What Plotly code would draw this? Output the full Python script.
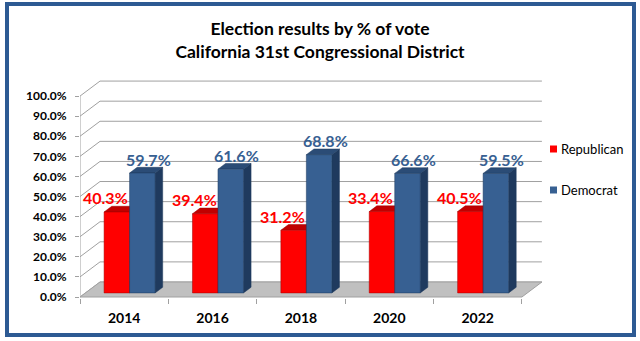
import plotly.graph_objects as go

# ---------------- data ----------------
years = ["2014", "2016", "2018", "2020", "2022"]
rep_height = [40.3, 39.4, 31.2, 40.5, 40.5]   # bar heights as drawn
dem_height = [59.7, 61.6, 68.8, 59.5, 59.5]
rep_labels = ["40.3%", "39.4%", "31.2%", "33.4%", "40.5%"]
dem_labels = ["59.7%", "61.6%", "68.8%", "66.6%", "59.5%"]
y_ticks = list(range(0, 101, 10))
series_names = ["Republican", "Democrat"]

# ---------------- style / geometry ----------------
W, H = 640, 341
PL, PR, PT, PB = 80, 544, 80, 298
XMAX = 5.25
YMIN, YMAX = -0.5, 108
px_x = (PR - PL) / XMAX
px_y = (PB - PT) / (YMAX - YMIN)
WALL_DX, WALL_DY = 20 / px_x, 15 / px_y
F1, F2 = 0.27, 0.65
BAR_W = 25.5 / px_x
FONT = "Lato"

RED, RED_TOP, RED_SIDE = "#FF0000", "#C00000", "#A00000"
BLUE, BLUE_TOP, BLUE_SIDE = "#376092", "#2B4C76", "#1F3A5E"
GRID = "#A0A0A0"

fig = go.Figure()

# back wall + side wall gridlines
gx, gy = [], []
for v in y_ticks:
    gx += [0, WALL_DX, len(years) + WALL_DX, None]
    gy += [v, v + WALL_DY, v + WALL_DY, None]
fig.add_trace(go.Scatter(x=gx, y=gy, mode="lines", line=dict(color=GRID, width=1),
                         hoverinfo="skip", showlegend=False))
# front-left edge (value axis line)
fig.add_trace(go.Scatter(x=[0, 0], y=[0, y_ticks[-1]], mode="lines",
                         line=dict(color=GRID, width=1), hoverinfo="skip", showlegend=False))
# floor
n = len(years)
fig.add_trace(go.Scatter(x=[0, n, n + WALL_DX, WALL_DX, 0], y=[0, 0, WALL_DY, WALL_DY, 0],
                         mode="lines", fill="toself", fillcolor="#C0C0C0",
                         line=dict(color="#A0A0A0", width=1), hoverinfo="skip", showlegend=False))


def faces(values, offset):
    fx, fy, tx, ty, sx, sy = [], [], [], [], [], []
    d1x, d1y, d2x, d2y = F1 * WALL_DX, F1 * WALL_DY, F2 * WALL_DX, F2 * WALL_DY
    for i, v in enumerate(values):
        x0 = i + 0.5 + offset
        x1 = x0 + BAR_W
        fx += [x0 + d1x, x1 + d1x, x1 + d1x, x0 + d1x, x0 + d1x, None]
        fy += [d1y, d1y, v + d1y, v + d1y, d1y, None]
        tx += [x0 + d1x, x1 + d1x, x1 + d2x, x0 + d2x, x0 + d1x, None]
        ty += [v + d1y, v + d1y, v + d2y, v + d2y, v + d1y, None]
        sx += [x1 + d1x, x1 + d2x, x1 + d2x, x1 + d1x, x1 + d1x, None]
        sy += [d1y, d2y, v + d2y, v + d1y, d1y, None]
    return (fx, fy), (tx, ty), (sx, sy)


for values, offset, cols in [(rep_height, -BAR_W, (RED, RED_TOP, RED_SIDE)),
                             (dem_height, 0.0, (BLUE, BLUE_TOP, BLUE_SIDE))]:
    front, top, side = faces(values, offset)
    for (xs, ys), c in [(side, cols[2]), (top, cols[1]), (front, cols[0])]:
        fig.add_trace(go.Scatter(x=xs, y=ys, mode="lines", fill="toself", fillcolor=c,
                                 line=dict(color=cols[2], width=0.5),
                                 hoverinfo="skip", showlegend=False))

# data labels
ann = []
for i in range(n):
    for vals, labs, off, col, xs in [(rep_height, rep_labels, -BAR_W, RED, -11),
                                     (dem_height, dem_labels, 0.0, BLUE, 6)]:
        ann.append(dict(x=i + 0.5 + off + BAR_W / 2 + F1 * WALL_DX, y=vals[i] + F1 * WALL_DY,
                        text=labs[i], showarrow=False, xshift=xs, yshift=14,
                        font=dict(family=FONT, size=16, color=col, weight="bold")))

# legend (custom, Excel-like)
shapes = []
for k, (name, col) in enumerate(zip(series_names, [RED, BLUE])):
    cy = 149 + 41 * k
    shapes.append(dict(type="rect", xref="paper", yref="paper",
                       x0=(550 - PL) / (PR - PL), x1=(557 - PL) / (PR - PL),
                       y0=(PB - cy - 3.5) / (PB - PT), y1=(PB - cy + 3.5) / (PB - PT),
                       fillcolor=col, line=dict(width=0)))
    ann.append(dict(xref="paper", yref="paper", x=(559 - PL) / (PR - PL),
                    y=(PB - cy) / (PB - PT), xanchor="left", yanchor="middle",
                    text=name, showarrow=False,
                    font=dict(family=FONT, size=13, color="black")))

# outer frame
shapes.append(dict(type="rect", xref="paper", yref="paper",
                   x0=(7 - PL) / (PR - PL), x1=(634 - PL) / (PR - PL),
                   y0=(PB - 335) / (PB - PT), y1=(PB - 4) / (PB - PT),
                   line=dict(color="#2D5A93", width=4), fillcolor="rgba(0,0,0,0)", layer="above"))

fig.update_layout(
    width=W, height=H,
    margin=dict(l=PL, r=W - PR, t=PT, b=H - PB, pad=0),
    paper_bgcolor="white", plot_bgcolor="white",
    showlegend=False,
    title=dict(text="Election results by % of vote<br>California 31st Congressional District",
               x=0.5, xref="container", xanchor="center",
               y=1 - 35 / H, yref="container", yanchor="top",
               font=dict(family=FONT, size=17.5, color="black", weight="bold")),
    xaxis=dict(range=[0, XMAX], showgrid=False, zeroline=False, showline=False,
               tickvals=[i + 0.5 for i in range(n)], ticktext=years, ticks="",
               tickfont=dict(family=FONT, size=14, color="black", weight="bold"),
               ticklabelstandoff=10,
               minor=dict(tickvals=list(range(n + 1)), ticks="outside", ticklen=5,
                          tickcolor=GRID, showgrid=False)),
    yaxis=dict(range=[YMIN, YMAX], showgrid=False, zeroline=False, showline=False,
               tickvals=y_ticks, ticktext=[f"{v:.1f}%" for v in y_ticks],
               ticks="outside", ticklen=4, tickcolor=GRID,
               tickfont=dict(family=FONT, size=12, color="black", weight="bold"),
               ticklabelstandoff=6),
    annotations=ann, shapes=shapes,
)

fig.write_html("out.html")
